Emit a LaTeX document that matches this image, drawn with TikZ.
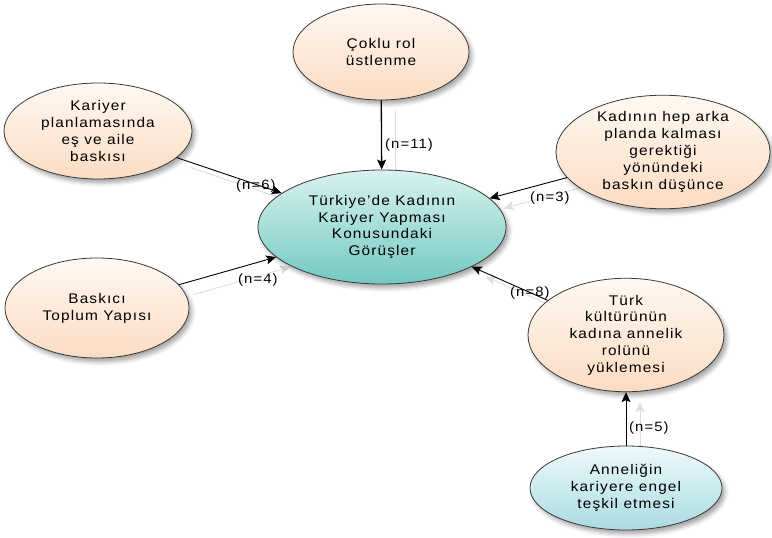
\documentclass[tikz,border=0pt]{standalone}
\usepackage{fontspec}
\setmainfont{Liberation Sans}[LetterSpace=8, FakeStretch=1.1]
\usetikzlibrary{shapes.geometric,arrows.meta,shadows.blur}
\pgfdeclarelayer{background}
\pgfsetlayers{background,main}

\definecolor{peach}{HTML}{FBDCC2}
\definecolor{peachlight}{HTML}{FFF8F2}
\definecolor{tealdark}{HTML}{72C9C1}
\definecolor{teallight}{HTML}{D8F2EF}
\definecolor{iceblue}{HTML}{A9DCE2}
\definecolor{icelight}{HTML}{EFF9FA}
\definecolor{rim}{HTML}{3A3A3A}

\tikzset{
  bubble/.style={ellipse, draw=rim, line width=0.8pt, inner sep=0pt, align=center,
    font=\fontsize{14}{16.8}\selectfont,
    blur shadow={shadow xshift=3pt, shadow yshift=-4pt, shadow blur radius=4pt, shadow opacity=35}},
  warm/.style={bubble, top color=peachlight, bottom color=peach},
  core/.style={bubble, top color=teallight, bottom color=tealdark},
  cool/.style={bubble, top color=icelight, bottom color=iceblue},
  link/.style={draw=black, line width=0.9pt, -{Stealth[length=10pt, width=9pt, inset=2pt]}},
  ghost/.style={draw=black!13, line width=0.9pt, -{Stealth[length=10pt, width=9pt, inset=2pt]}},
  count/.style={font=\fontsize{13.5}{15}\selectfont, inner sep=0pt, anchor=west},
}

\begin{document}
\begin{tikzpicture}[x=1pt, y=-1pt]
  \useasboundingbox (0,0) rectangle (772,538);

  % opinion bubbles
  \node[core, minimum width=248pt, minimum height=114pt] (core) at (382,227)
    {Türkiye'de Kadının\\Kariyer Yapması\\Konusundaki\\Görüşler};
  \node[warm, minimum width=176pt, minimum height=96pt] (multi) at (381,52)
    {Çoklu rol\\üstlenme};
  \node[warm, minimum width=188pt, minimum height=96pt] (plan) at (98,131)
    {Kariyer\\planlamasında\\eş ve aile\\baskısı};
  \node[warm, minimum width=214pt, minimum height=110pt] (back) at (663,152)
    {Kadının hep arka\\planda kalması\\gerektiği\\yönündeki\\baskın düşünce};
  \node[warm, minimum width=184pt, minimum height=100pt] (society) at (97,308)
    {Baskıcı\\Toplum Yapısı};
  \node[warm, minimum width=196pt, minimum height=112pt] (culture) at (626,335)
    {Türk\\kültürünün\\kadına annelik\\rolünü\\yüklemesi};
  \node[cool, minimum width=192pt, minimum height=84pt] (mother) at (626,488)
    {Anneliğin\\kariyere engel\\teşkil etmesi};

  % faint offset copies of the connectors
  \begin{pgfonlayer}{background}
    \begin{scope}[transform canvas={shift={(14pt,-10pt)}}]
      \draw[ghost] (multi) -- (core);
      \draw[ghost] (plan) -- (core);
      \draw[ghost] (back) -- (core);
      \draw[ghost] (society) -- (core);
      \draw[ghost] (culture) -- (core);
      \draw[ghost] (mother) -- (culture);
    \end{scope}
  \end{pgfonlayer}

  % connectors
  \draw[link, line width=1.3pt] (multi) -- (core);
  \draw[link] (plan) -- (core);
  \draw[link] (back) -- (core);
  \draw[link] (society) -- (core);
  \draw[link] (culture) -- (core);
  \draw[link] (mother) -- (culture);

  % counts
  \node[count] (c11) at (385,145) {(n=11)};
  \node[count] (c6) at (236,186) {(n=6)};
  \node[count] (c3) at (530,198) {(n=3)};
  \node[count] (c4) at (238,280) {(n=4)};
  \node[count] (c8) at (510,293) {(n=8)};
  \node[count] (c5) at (629,428) {(n=5)};
\end{tikzpicture}
\end{document}
